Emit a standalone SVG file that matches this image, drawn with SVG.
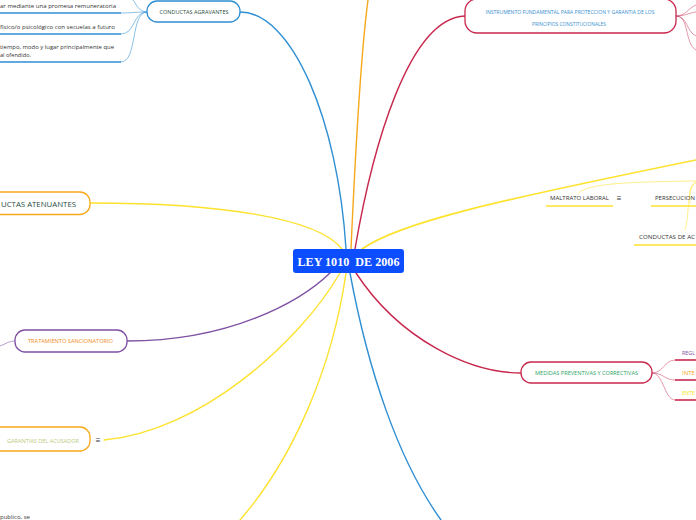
<svg xmlns="http://www.w3.org/2000/svg" width="696" height="520" viewBox="0 0 696 520">
<style>
.t{font-family:"Open Sans","Liberation Sans",sans-serif;}
.c{fill:none;stroke-linecap:round}
.blue{stroke:#2f8fd3}
.red{stroke:#c8284e}
.yel{stroke:#fde22e}
.org{stroke:#f7a81b}
.pur{stroke:#7e4fa2}
.box{fill:#fff;stroke-width:1.3}
</style>
<rect width="696" height="520" fill="#fff"/>
<g id="connectors">
  <path class="c blue" stroke-width="1.4" d="M240,12 C292,12 338,120 346,249"/>
  <path class="c org" stroke-width="1.4" d="M351,249 C355,160 360,60 368,0"/>
  <path class="c red" stroke-width="1.4" d="M355,249 C372,150 408,18 465,16"/>
  <path class="c yel" stroke-width="1.4" d="M90,203 C220,203 318,218 342,249"/>
  <path class="c yel" stroke-width="1.6" d="M362,249 C400,222 500,200 696,160"/>
  <path class="c pur" stroke-width="1.4" d="M127,341 C230,341 300,302 330,273"/>
  <path class="c yel" stroke-width="1.4" d="M104,440 C200,432 300,342 340,273"/>
  <path class="c yel" stroke-width="1.4" d="M346,273 C332,370 292,460 240,520"/>
  <path class="c blue" stroke-width="1.4" d="M350,273 C368,370 398,460 441,520"/>
  <path class="c red" stroke-width="1.4" d="M356,273 C400,340 470,373 521,373"/>
  <path class="c blue" stroke-width="0.8" opacity="0.7" d="M147,12 C138,12 136,3 133,0"/>
  <path class="c blue" stroke-width="0.8" opacity="0.7" d="M147,12 C135,12 132,13 121,13"/>
  <path class="c blue" stroke-width="0.8" opacity="0.7" d="M147,12 C132,12 136,34 121,34"/>
  <path class="c blue" stroke-width="0.8" opacity="0.7" d="M147,12 C130,12 138,62 121,62"/>
  <path class="c red" stroke-width="0.8" opacity="0.6" d="M676,16 C686,16 688,8 696,5"/>
  <path class="c red" stroke-width="0.8" opacity="0.6" d="M676,16 C686,16 688,13 696,12"/>
  <path class="c red" stroke-width="0.8" opacity="0.6" d="M676,16 C688,16 686,32 696,36"/>
  <path class="c red" stroke-width="0.8" opacity="0.6" d="M676,16 C690,16 684,44 696,50"/>
  <path class="c yel" stroke-width="0.8" opacity="0.7" d="M696,181 C630,182 585,183 578,194"/>
  <path class="c yel" stroke-width="0.8" opacity="0.7" d="M696,182 C688,186 690,196 690,203"/>
  <path class="c yel" stroke-width="0.8" opacity="0.7" d="M696,182 C686,188 690,215 685,230"/>
  <path class="c pur" stroke-width="0.8" opacity="0.7" d="M15,341 C8,341 4,345 0,346"/>
  <path class="c red" stroke-width="0.8" opacity="0.6" d="M652,373 C664,373 664,360 675,360"/>
  <path class="c red" stroke-width="0.8" opacity="0.6" d="M652,373 C664,373 664,380 675,380"/>
  <path class="c red" stroke-width="0.8" opacity="0.6" d="M652,373 C664,373 664,400 675,400"/>
</g>
<g id="center">
  <rect x="293" y="249" width="111" height="24" rx="3" fill="#0b4dff"/>
  <text x="348.5" y="265.5" text-anchor="middle" font-family="'Liberation Serif',serif" font-weight="bold" font-size="12.5" fill="#fff" textLength="102" lengthAdjust="spacingAndGlyphs">LEY 1010&#160; DE 2006</text>
</g>
<g id="agravantes">
  <rect class="box blue" x="147" y="1" width="93" height="21" rx="10"/>
  <text class="t" x="194" y="14" text-anchor="middle" font-size="6" fill="#1f4e3d" textLength="69" lengthAdjust="spacingAndGlyphs">CONDUCTAS AGRAVANTES</text>
</g>
<g id="agr1">
  <text class="t" x="0" y="8" font-size="6" fill="#333" textLength="116" lengthAdjust="spacingAndGlyphs">ar mediante una promesa remuneratoria</text>
  <line x1="0" y1="13" x2="121" y2="13" stroke="#2f8fd3" stroke-width="1.6"/>
</g>
<g id="agr2">
  <text class="t" x="0" y="29" font-size="6" fill="#333" textLength="115" lengthAdjust="spacingAndGlyphs">físico/o psicológico con secuelas a futuro</text>
  <line x1="0" y1="34" x2="121" y2="34" stroke="#2f8fd3" stroke-width="1.6"/>
</g>
<g id="agr3">
  <text class="t" x="0" y="49" font-size="6" fill="#333" textLength="114" lengthAdjust="spacingAndGlyphs">tiempo, modo y lugar principalmente que</text>
  <text class="t" x="0" y="57" font-size="6" fill="#333" textLength="31" lengthAdjust="spacingAndGlyphs">al ofendido.</text>
  <line x1="0" y1="62" x2="121" y2="62" stroke="#2f8fd3" stroke-width="1.6"/>
</g>
<g id="instrumento">
  <rect class="box red" x="465" y="-1" width="211" height="34" rx="12"/>
  <text class="t" x="570" y="14" text-anchor="middle" font-size="5.5" fill="#3a8fd0" textLength="169" lengthAdjust="spacingAndGlyphs">INSTRUMENTO FUNDAMENTAL PARA PROTECCION Y GARANTIA DE LOS</text>
  <text class="t" x="569" y="25.5" text-anchor="middle" font-size="5.5" fill="#3a8fd0" textLength="74" lengthAdjust="spacingAndGlyphs">PRINCIPIOS CONSTITUCIONALES</text>
</g>
<g id="atenuantes">
  <rect class="box org" x="-20" y="192" width="110" height="22.5" rx="10"/>
  <text class="t" x="1" y="206.5" font-size="8" fill="#1f4e3d" textLength="75" lengthAdjust="spacingAndGlyphs">UCTAS ATENUANTES</text>
</g>
<g id="maltrato">
  <text class="t" x="550" y="200" font-size="6" fill="#333" textLength="59" lengthAdjust="spacingAndGlyphs">MALTRATO LABORAL</text>
  <text class="t" x="619" y="200.5" text-anchor="middle" font-size="8" fill="#333">≡</text>
  <line x1="546" y1="206" x2="613" y2="206" stroke="#fde22e" stroke-width="1.6"/>
</g>
<g id="persecucion">
  <text class="t" x="655" y="200" font-size="6" fill="#333" textLength="40" lengthAdjust="spacingAndGlyphs">PERSECUCION</text>
  <line x1="651" y1="206" x2="696" y2="206" stroke="#fde22e" stroke-width="1.6"/>
</g>
<g id="acoso">
  <text class="t" x="639" y="239" font-size="6" fill="#333" textLength="56" lengthAdjust="spacingAndGlyphs">CONDUCTAS DE AC</text>
  <line x1="634" y1="245" x2="696" y2="245" stroke="#fde22e" stroke-width="1.6"/>
</g>
<g id="tratamiento">
  <rect class="box pur" x="15" y="330" width="112" height="22" rx="10"/>
  <text class="t" x="70.5" y="343" text-anchor="middle" font-size="6" fill="#f28c22" textLength="85" lengthAdjust="spacingAndGlyphs">TRATAMIENTO SANCIONATORIO</text>
</g>
<g id="medidas">
  <rect class="box red" x="521" y="362" width="131" height="21" rx="10"/>
  <text class="t" x="586.5" y="375" text-anchor="middle" font-size="6" fill="#2aa35f" textLength="103" lengthAdjust="spacingAndGlyphs">MEDIDAS PREVENTIVAS Y CORRECTIVAS</text>
</g>
<g id="regl">
  <text class="t" x="682" y="355" font-size="6" fill="#7e4fa2" textLength="13" lengthAdjust="spacingAndGlyphs">REGL</text>
  <line x1="675" y1="360" x2="696" y2="360" stroke="#c8284e" stroke-width="1.6"/>
</g>
<g id="inte">
  <text class="t" x="682" y="375" font-size="6" fill="#f7a81b" textLength="13" lengthAdjust="spacingAndGlyphs">INTE</text>
  <line x1="675" y1="380" x2="696" y2="380" stroke="#c8284e" stroke-width="1.6"/>
</g>
<g id="ente">
  <text class="t" x="682" y="395" font-size="6" fill="#f5e21b" textLength="13" lengthAdjust="spacingAndGlyphs">ENTE</text>
  <line x1="675" y1="400" x2="696" y2="400" stroke="#c8284e" stroke-width="1.6"/>
</g>
<g id="garantias">
  <rect class="box org" x="-20" y="427" width="110" height="24" rx="10"/>
  <text class="t" x="43" y="443" text-anchor="middle" font-size="6" fill="#b9c97a" textLength="72" lengthAdjust="spacingAndGlyphs">GARANTIAS DEL ACUSADOR</text>
  <text class="t" x="98" y="442.5" text-anchor="middle" font-size="8" fill="#333">≡</text>
</g>
<g id="publico">
  <text class="t" x="0" y="519" font-size="6" fill="#333">publico, se</text>
</g>
</svg>
